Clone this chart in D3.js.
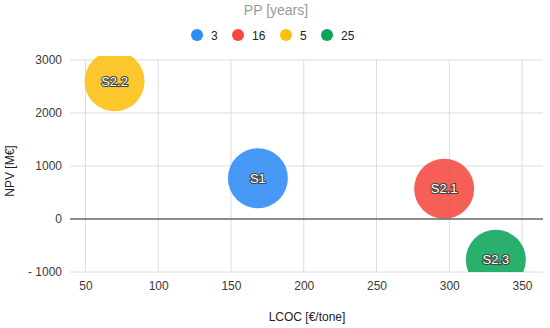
<!DOCTYPE html>
<html>
<head>
<meta charset="utf-8">
<script src="https://cdn.jsdelivr.net/npm/d3@7"></script>
<style>
  body { margin: 0; background: #fff; }
  svg { font-family: "Liberation Sans", Arial, sans-serif; }
</style>
</head>
<body>
<svg id="chart" width="550" height="328"></svg>
<script>
// bubble data
const names = ["S1", "S2.1", "S2.2", "S2.3"];
const lcoc = [168.5, 296.5, 70, 332];
const npv = [770, 570, 2600, -770];
const pp = [3, 16, 5, 25];

const ppOrder = [3, 16, 5, 25];
const ppColors = ["#2f8bf5", "#f4493d", "#fcbf10", "#0aa558"];

const xTicks = [50, 100, 150, 200, 250, 300, 350];
const yTicks = [-1000, 0, 1000, 2000, 3000];

const svg = d3.select("#chart");
const plot = { left: 70, right: 543, top: 60, bottom: 272 };

const x = d3.scaleLinear().domain([39.4, 364.4]).range([plot.left, plot.right]);
const y = d3.scaleLinear().domain([-1000, 3000]).range([plot.bottom, plot.top]);
const color = d3.scaleOrdinal().domain(ppOrder).range(ppColors);

// gridlines
svg.append("g")
  .selectAll("line.gx")
  .data(xTicks)
  .join("line")
  .attr("x1", d => x(d)).attr("x2", d => x(d))
  .attr("y1", plot.top).attr("y2", plot.bottom)
  .attr("stroke", "#dcdcdc");

svg.append("g")
  .selectAll("line.gy")
  .data(yTicks.filter(d => d !== 0))
  .join("line")
  .attr("x1", plot.left).attr("x2", plot.right)
  .attr("y1", d => y(d)).attr("y2", d => y(d))
  .attr("stroke", "#dcdcdc");

// axes (labels only)
const xAxis = svg.append("g")
  .attr("transform", `translate(0,${plot.bottom})`)
  .call(d3.axisBottom(x).tickValues(xTicks).tickSize(0).tickPadding(9));
const yAxis = svg.append("g")
  .attr("transform", `translate(${plot.left},0)`)
  .call(d3.axisLeft(y).tickValues(yTicks).tickSize(0).tickPadding(8)
    .tickFormat(d => d < 0 ? "- " + Math.abs(d) : d));
[xAxis, yAxis].forEach(a => {
  a.select(".domain").remove();
  a.selectAll("text").attr("fill", "#3a3a3a").attr("font-size", 12)
    .attr("font-family", "Liberation Sans, Arial, sans-serif");
});

// bubbles
svg.append("defs").append("clipPath").attr("id", "clip")
  .append("rect")
  .attr("x", plot.left).attr("y", plot.top - 4)
  .attr("width", plot.right - plot.left).attr("height", plot.bottom - plot.top + 4);

const bubbles = svg.append("g").attr("clip-path", "url(#clip)");
bubbles.selectAll("circle")
  .data(names)
  .join("circle")
  .attr("cx", (d, i) => x(lcoc[i]))
  .attr("cy", (d, i) => y(npv[i]))
  .attr("r", 30)
  .attr("fill", (d, i) => color(pp[i]))
  .attr("fill-opacity", 0.88);

// zero baseline
svg.append("line")
  .attr("x1", plot.left).attr("x2", plot.right)
  .attr("y1", y(0)).attr("y2", y(0))
  .attr("stroke", "#666").attr("stroke-width", 1.5);

bubbles.selectAll("text")
  .data(names)
  .join("text")
  .attr("x", (d, i) => x(lcoc[i]))
  .attr("y", (d, i) => y(npv[i]) + 4.5)
  .attr("text-anchor", "middle")
  .attr("font-size", 13)
  .attr("fill", "#fff")
  .attr("stroke", "#444")
  .attr("stroke-width", 2.2)
  .attr("paint-order", "stroke")
  .text(d => d);

// legend
svg.append("text")
  .attr("x", 276).attr("y", 15)
  .attr("text-anchor", "middle")
  .attr("font-size", 14)
  .attr("fill", "#999")
  .text("PP [years]");

const legendX = [197, 238, 286, 327];
const legend = svg.append("g").selectAll("g")
  .data(ppOrder)
  .join("g")
  .attr("transform", (d, i) => `translate(${legendX[i]},35)`);
legend.append("circle").attr("r", 6).attr("fill", d => color(d));
legend.append("text")
  .attr("x", 14).attr("y", 4.5)
  .attr("font-size", 12).attr("fill", "#222")
  .text(d => d);

// axis titles
svg.append("text")
  .attr("x", 307).attr("y", 321)
  .attr("text-anchor", "middle")
  .attr("font-size", 12).attr("fill", "#222")
  .text("LCOC [€/tone]");

svg.append("text")
  .attr("transform", "translate(14,171) rotate(-90)")
  .attr("text-anchor", "middle")
  .attr("font-size", 12).attr("fill", "#222")
  .text("NPV [M€]");
</script>
</body>
</html>
